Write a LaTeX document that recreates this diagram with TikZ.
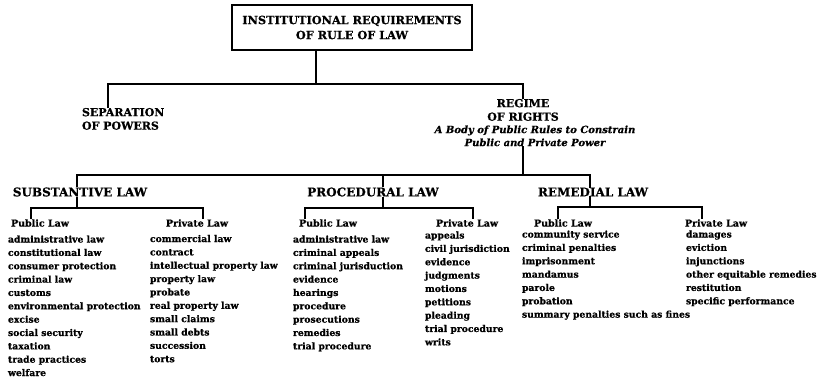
\documentclass[tikz,border=0pt]{standalone}
\usepackage{fontspec}
\setmainfont{DejaVu Serif}[BoldFeatures={FakeBold=0.6},BoldItalicFeatures={FakeBold=0.6}]
\begin{document}
\begin{tikzpicture}[x=1pt,y=-1pt,
  conn/.style={draw=black, line width=1.3pt},
  every node/.style={inner sep=0pt, outer sep=0pt},
  titlefont/.style={font=\bfseries\fontsize{11.3}{15}\selectfont, align=center},
  headfont/.style={font=\bfseries\fontsize{11}{13.5}\selectfont, align=center},
  catfont/.style={font=\bfseries\fontsize{12}{13}\selectfont},
  subfont/.style={font=\bfseries\fontsize{9.5}{12}\selectfont},
  itemfont/.style={font=\bfseries\fontsize{9.25}{13.35}\selectfont, align=left, anchor=north west},
  italfont/.style={font=\bfseries\itshape\fontsize{10}{13}\selectfont, align=center}]
\useasboundingbox (0,0) rectangle (826,380);

% title box
\node[draw=black, line width=1.3pt, minimum width=240pt, minimum height=45pt, titlefont] (title) at (352,27.5)
  {INSTITUTIONAL REQUIREMENTS\\OF RULE OF LAW};

% second level
\node[headfont, align=left, anchor=north west] (sep) at (82,108) {SEPARATION\\OF POWERS};
\node[headfont, anchor=north] (reg) at (523,99) {REGIME\\OF RIGHTS};
\node[italfont, anchor=north] (regtxt) at (535,125.5) {A Body of Public Rules to Constrain\\Public and Private Power};

% categories
\node[catfont] (subst) at (80,192) {SUBSTANTIVE LAW};
\node[catfont] (proc) at (373,192) {PROCEDURAL LAW};
\node[catfont] (rem) at (593,192) {REMEDIAL LAW};

% sub headings
\node[subfont] (spub) at (40,223) {Public Law};
\node[subfont] (spriv) at (197,223) {Private Law};
\node[subfont] (ppub) at (328,223) {Public Law};
\node[subfont] (ppriv) at (467,223) {Private Law};
\node[subfont] (rpub) at (563,223) {Public Law};
\node[subfont] (rpriv) at (716,223) {Private Law};

% lists
\node[itemfont] (spubl) at (8,235.5) {administrative law\\constitutional law\\consumer protection\\criminal law\\customs\\environmental protection\\excise\\social security\\taxation\\trade practices\\welfare};
\node[itemfont] (sprivl) at (150,235) {commercial law\\contract\\intellectual property law\\property law\\probate\\real property law\\small claims\\small debts\\succession\\torts};
\node[itemfont] (ppubl) at (293,235.5) {administrative law\\criminal appeals\\criminal jurisduction\\evidence\\hearings\\procedure\\prosecutions\\remedies\\trial procedure};
\node[itemfont] (pprivl) at (425,231.5) {appeals\\civil jurisdiction\\evidence\\judgments\\motions\\petitions\\pleading\\trial procedure\\writs};
\node[itemfont] (rpubl) at (522,230.5) {community service\\criminal penalties\\imprisonment\\mandamus\\parole\\probation\\summary penalties such as fines};
\node[itemfont] (rprivl) at (686,230.5) {damages\\eviction\\injunctions\\other equitable remedies\\restitution\\specific performance};

% junction coordinates
\coordinate (jtop) at (316,84);
\coordinate (jsep) at (108,84);
\coordinate (jreg) at (523,84);
\coordinate (jmid) at (523,175);
\coordinate (jsub) at (77,175);
\coordinate (jpro) at (383,175);
\coordinate (jrem) at (590,175);
\coordinate (fs) at (77,208);
\coordinate (fsl) at (31,208);
\coordinate (fsr) at (203,208);
\coordinate (fp) at (383,208);
\coordinate (fpl) at (305,208);
\coordinate (fpr) at (473,208);
\coordinate (fr) at (590,207);
\coordinate (frl) at (558,207);
\coordinate (frr) at (702,207);

% connectors
\draw[conn] (title.south -| jtop) -- (jtop);
\draw[conn] (sep.north -| jsep) -- (jsep) -- (jreg) -- (reg.north -| jreg);
\draw[conn] (regtxt.south -| jmid) -- (jmid);
\draw[conn] (subst.north -| jsub) -- (jsub) -- (jrem) -- (rem.north -| jrem);
\draw[conn] (jpro) -- (proc.north -| jpro);

\draw[conn] (subst.south -| fs) -- (fs);
\draw[conn] (spub.north -| fsl) -- (fsl) -- (fsr) -- (spriv.north -| fsr);
\draw[conn] (proc.south -| fp) -- (fp);
\draw[conn] (ppub.north -| fpl) -- (fpl) -- (fpr) -- (ppriv.north -| fpr);
\draw[conn] (rem.south -| fr) -- (fr);
\draw[conn] (rpub.north -| frl) -- (frl) -- (frr) -- (rpriv.north -| frr);
\end{tikzpicture}
\end{document}
